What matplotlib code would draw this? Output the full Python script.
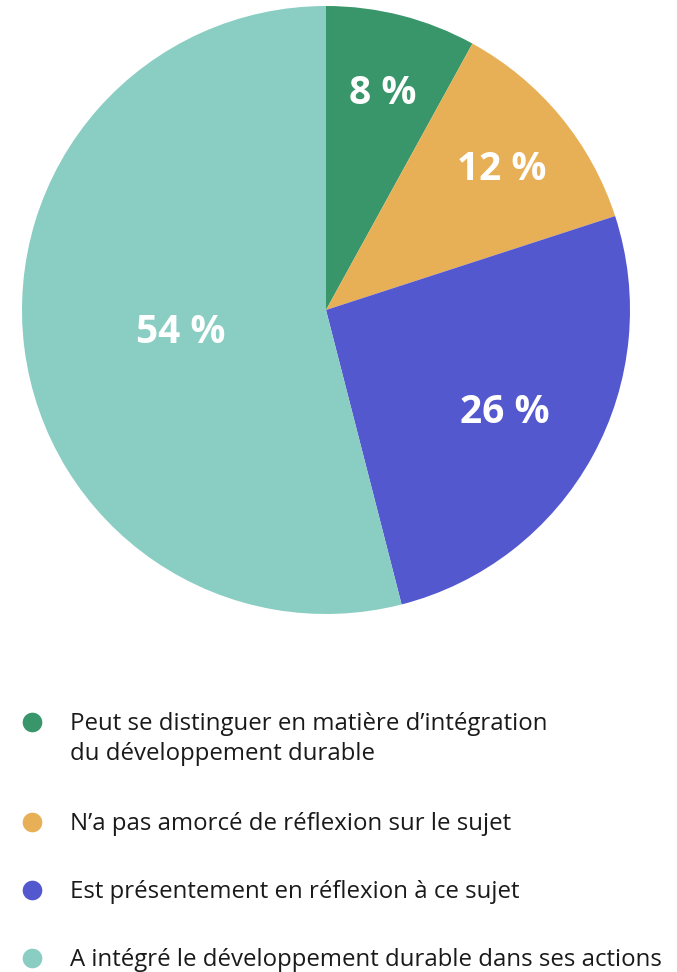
import matplotlib.pyplot as plt
import numpy as np

# données
categories = [
    "Peut se distinguer en matière d\u2019intégration\ndu développement durable",
    "N\u2019a pas amorcé de réflexion sur le sujet",
    "Est présentement en réflexion à ce sujet",
    "A intégré le développement durable dans ses actions",
]
values = [8, 12, 26, 54]
colors = ["#38966a", "#e8b056", "#5458cf", "#89cdc3"]

# distance des étiquettes depuis le centre (fraction du rayon)
label_r = [0.75, 0.75, 0.67, 0.48]

plt.rcParams['font.family'] = ['Open Sans', 'DejaVu Sans']

fig = plt.figure(figsize=(6.77, 9.72), dpi=100)

# camembert
ax = fig.add_axes([22 / 677, (972 - 614) / 972, 608 / 677, 608 / 972])
wedges, _ = ax.pie(values, colors=colors, startangle=90, counterclock=False,
                   radius=1, wedgeprops=dict(linewidth=0))
ax.set_xlim(-1, 1)
ax.set_ylim(-1, 1)
ax.set_aspect('equal')
ax.axis('off')

for w, v, r in zip(wedges, values, label_r):
    ang = np.deg2rad((w.theta1 + w.theta2) / 2)
    ax.text(r * np.cos(ang), r * np.sin(ang), f"{v} %", color='white',
            fontsize=28, fontweight='bold', ha='center', va='center_baseline')

# légende
lax = fig.add_axes([0, 0, 1, 1], zorder=-1)
lax.set_xlim(0, 677)
lax.set_ylim(972, 0)
lax.axis('off')
leg_y = [722, 822, 890, 958]
for y, c, lab in zip(leg_y, colors, categories):
    lax.scatter([32], [y], s=200, color=c, linewidths=0)
    for i, line in enumerate(lab.split('\n')):
        lax.text(70, y + 8 + 30 * i, line, fontsize=17.3, color='#1a1a1a',
                 ha='left', va='baseline')

fig.savefig('out.png', dpi=100)
